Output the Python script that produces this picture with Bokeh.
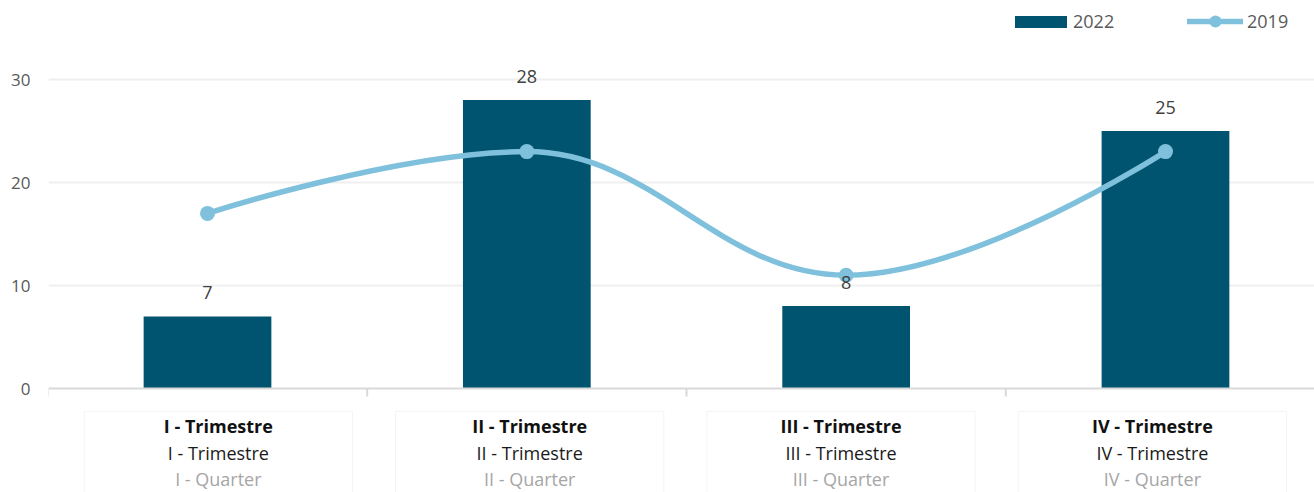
from bokeh.plotting import figure
from bokeh.models import Range1d, FixedTicker, Span, Legend, LegendItem, ColumnDataSource
from bokeh.core.properties import value
from bokeh.embed import file_html
from bokeh.resources import INLINE

# ---------------- data ----------------
categories = ["I", "II", "III", "IV"]
bold_labels = ["I - Trimestre", "II - Trimestre", "III - Trimestre", "IV - Trimestre"]
normal_labels = ["I - Trimestre", "II - Trimestre", "III - Trimestre", "IV - Trimestre"]
quarter_labels = ["I - Quarter", "II - Quarter", "III - Quarter", "IV - Quarter"]
values_2022 = [7, 28, 8, 25]
values_2019 = [17, 23, 11, 23]
y_ticks = [0, 10, 20, 30]

# ---------------- style ----------------
FONT = "Open Sans"
BAR = "#00546f"
LINE = "#7fc1dc"
W, H = 1314, 492
LEFT = 48
BASE = 388   # pixel row of the zero line
PX = 10.3    # pixels per y unit
CAT0, CATW = 207, 319.33  # pixel centre of first category, pixel spacing

xs = list(range(len(categories)))

p = figure(width=W, height=H, output_backend="svg", toolbar_location=None,
           x_range=Range1d((LEFT - CAT0) / CATW, (W - CAT0) / CATW),
           y_range=Range1d((BASE - H) / PX, BASE / PX),
           x_axis_location=None, min_border_left=LEFT, min_border_right=0,
           min_border_top=0, min_border_bottom=0)
p.outline_line_color = None
p.background_fill_color = "white"
p.border_fill_color = "white"

# axes / grid
p.xgrid.visible = False
p.ygrid.ticker = FixedTicker(ticks=y_ticks[1:])
p.ygrid.grid_line_color = "#efefef"
p.ygrid.grid_line_width = 2
ax = p.yaxis[0]
ax.ticker = FixedTicker(ticks=y_ticks)
ax.axis_line_color = None
ax.major_tick_line_color = None
ax.minor_tick_line_color = None
ax.major_tick_out = 0
ax.major_tick_in = 0
ax.major_label_standoff = 18
ax.major_label_text_font = FONT
ax.major_label_text_font_size = "17px"
ax.major_label_text_color = "#595959"

# category label boxes
label_x = [i * 0.975 + 0.034 for i in xs]
p.quad(left=[lx - 0.42 for lx in label_x], right=[lx + 0.42 for lx in label_x],
       top=-23 / PX, bottom=-30, fill_color=None, line_color="#f4f4f4", line_width=1)

# baseline and category ticks
p.add_layout(Span(location=0, dimension="width", line_color="#d9d9d9", line_width=2))
bounds = [i - 0.5 for i in xs] + [len(xs) - 0.5]
p.segment(x0=bounds, y0=0, x1=bounds, y1=-8 / PX, line_color="#d9d9d9", line_width=2)

# bars
bars = p.vbar(x=xs, top=values_2022, width=0.4, fill_color=BAR, line_color=None)

# spline (Highcharts-like smoothing)
def spline_segments(x, y, smoothing=1.5):
    n = len(x)
    lc = [(x[i], y[i]) for i in range(n)]
    rc = [(x[i], y[i]) for i in range(n)]
    d = smoothing + 1
    for i in range(1, n - 1):
        lx_ = (smoothing * x[i] + x[i - 1]) / d
        ly_ = (smoothing * y[i] + y[i - 1]) / d
        rx_ = (smoothing * x[i] + x[i + 1]) / d
        ry_ = (smoothing * y[i] + y[i + 1]) / d
        if rx_ != lx_:
            corr = (ry_ - ly_) * (rx_ - x[i]) / (rx_ - lx_) + y[i] - ry_
            ly_ += corr
            ry_ += corr
        if ly_ > y[i - 1] and ly_ > y[i]:
            ly_ = max(y[i - 1], y[i]); ry_ = 2 * y[i] - ly_
        elif ly_ < y[i - 1] and ly_ < y[i]:
            ly_ = min(y[i - 1], y[i]); ry_ = 2 * y[i] - ly_
        if ry_ > y[i + 1] and ry_ > y[i]:
            ry_ = max(y[i + 1], y[i]); ly_ = 2 * y[i] - ry_
        elif ry_ < y[i + 1] and ry_ < y[i]:
            ry_ = min(y[i + 1], y[i]); ly_ = 2 * y[i] - ry_
        lc[i] = (lx_, ly_)
        rc[i] = (rx_, ry_)
    seg = dict(x0=[], y0=[], x1=[], y1=[], cx0=[], cy0=[], cx1=[], cy1=[])
    for i in range(n - 1):
        seg["x0"].append(x[i]); seg["y0"].append(y[i])
        seg["x1"].append(x[i + 1]); seg["y1"].append(y[i + 1])
        seg["cx0"].append(rc[i][0]); seg["cy0"].append(rc[i][1])
        seg["cx1"].append(lc[i + 1][0]); seg["cy1"].append(lc[i + 1][1])
    return seg

curve = p.bezier(source=ColumnDataSource(spline_segments(xs, values_2019)),
                 x0="x0", y0="y0", x1="x1", y1="y1", cx0="cx0", cy0="cy0",
                 cx1="cx1", cy1="cy1", line_color=LINE, line_width=5.5, line_cap="round")
dots = p.scatter(x=xs, y=values_2019, size=15, fill_color=LINE, line_color=None)

# data labels
p.text(x=xs, y=values_2022, text=[str(v) for v in values_2022], y_offset=-24,
       text_align="center", text_baseline="alphabetic", text_font=value(FONT),
       text_font_size="18px", text_color="#404040")

# category labels
for labels, off, style, color in [(bold_labels, 37, "bold", "#111111"),
                                  (normal_labels, 64, "normal", "#1a1a1a"),
                                  (quarter_labels, 90, "normal", "#a6a6a6")]:
    p.text(x=label_x, y=0, text=labels, y_offset=off, text_align="center",
           text_baseline="alphabetic", text_font=value(FONT), text_font_size="18px",
           text_font_style=style, text_color=color)

# legends
leg1 = Legend(items=[LegendItem(label="2022", renderers=[bars])], location=(960, 459),
              glyph_width=65, glyph_height=15, label_height=15, label_standoff=0,
              padding=0, margin=0, border_line_color=None, background_fill_alpha=0,
              label_text_font=FONT, label_text_font_size="18px", label_text_color="#595959")
leg2 = Legend(items=[LegendItem(label="2019", renderers=[curve, dots])], location=(1139, 456),
              glyph_width=56, glyph_height=30, label_height=30, label_standoff=4,
              padding=0, margin=0, border_line_color=None, background_fill_alpha=0,
              label_text_font=FONT, label_text_font_size="18px", label_text_color="#595959")
p.add_layout(leg1, "center")
p.add_layout(leg2, "center")

open("out.html", "w").write(file_html(p, INLINE))
